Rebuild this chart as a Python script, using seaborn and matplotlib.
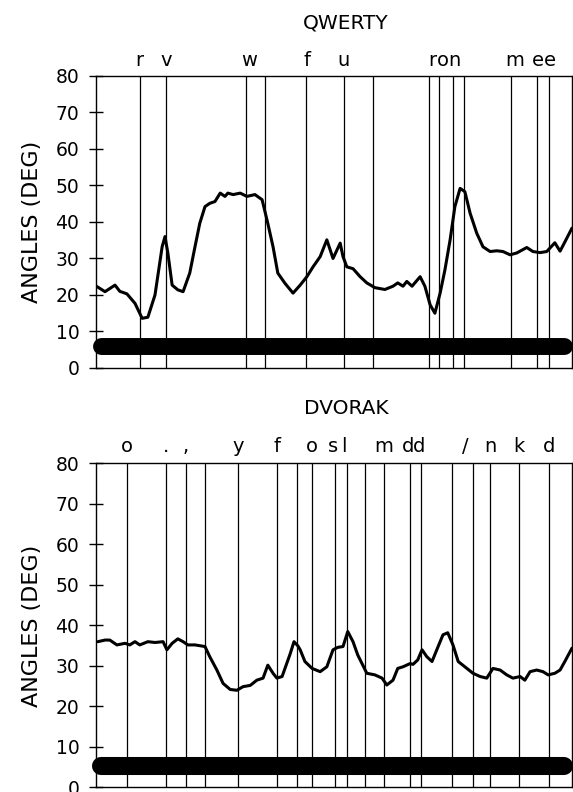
import numpy as np
import matplotlib
matplotlib.use("Agg")
import matplotlib.pyplot as plt
import seaborn as sns

# time axis is arbitrary (0-100 across the trace)
qwerty_t = [0.2, 1.9, 4.0, 5.0, 6.5, 8.2, 9.7, 10.9, 12.4, 13.9, 14.5, 15.1, 16.0, 17.2,
            18.3, 19.7, 20.8, 21.8, 22.9, 23.9, 25.0, 26.1, 27.1, 27.7, 28.8, 30.3, 31.7,
            33.4, 34.9, 36.1, 37.2, 38.2, 39.7, 41.4, 42.9, 44.3, 45.6, 47.1, 48.5, 49.8,
            51.3, 51.9, 52.7, 54.0, 55.5, 56.9, 58.6, 60.7, 62.4, 63.4, 64.5, 65.3, 66.4,
            68.1, 69.1, 70.2, 71.2, 72.3, 73.3, 74.4, 75.4, 76.5, 77.5, 78.6, 80.0, 81.3,
            82.8, 84.2, 85.5, 87.0, 88.4, 90.5, 91.8, 93.3, 94.7, 96.4, 97.5, 98.5, 100.0]
qwerty_angle = [22.3, 20.9, 22.7, 21.0, 20.3, 17.7, 13.6, 13.9, 20.0, 33.2, 36.0, 31.5, 22.7, 21.4,
                20.9, 26.0, 33.2, 39.6, 44.2, 45.1, 45.6, 47.9, 47.0, 47.9, 47.5, 47.9, 47.0,
                47.5, 46.1, 39.6, 33.2, 26.0, 23.2, 20.5, 22.7, 25.0, 27.7, 30.5, 35.1, 30.0,
                34.2, 30.5, 27.7, 27.2, 25.0, 23.3, 22.0, 21.5, 22.4, 23.3, 22.4, 23.7, 22.4,
                25.0, 22.4, 17.3, 15.0, 20.5, 26.8, 35.1, 44.2, 49.2, 48.3, 42.4, 36.9, 33.2,
                31.9, 32.1, 31.9, 31.0, 31.5, 33.0, 31.9, 31.6, 31.9, 34.3, 32.0, 34.5, 38.3]
qwerty_keys = [9.2, 14.7, 31.5, 35.5, 44.1, 52.1, 58.2, 70.0, 72.1, 75.0, 77.3, 87.2, 92.6, 95.2]
qwerty_labels = ["r", "v", "w", "f", "u", "r", "o", "n", "m", "e", "e"]
qwerty_label_t = [9.2, 14.7, 32.1, 44.3, 51.9, 70.6, 72.9, 75.4, 88.0, 92.9, 95.4]

dvorak_t = [0.4, 1.9, 2.9, 4.4, 6.1, 7.1, 8.2, 9.2, 10.9, 12.4, 14.1, 14.9, 16.0, 17.2,
            18.3, 19.3, 20.8, 22.9, 23.9, 25.4, 26.7, 28.2, 29.6, 30.9, 32.4, 33.8, 35.1,
            36.1, 37.2, 38.0, 39.1, 40.8, 41.6, 42.4, 42.9, 43.9, 45.4, 47.1, 48.5, 49.8,
            50.8, 51.9, 52.9, 54.0, 55.0, 56.9, 58.6, 60.1, 61.1, 62.4, 63.4, 64.5, 66.0,
            66.6, 67.6, 68.5, 69.5, 70.6, 71.6, 72.9, 73.9, 75.0, 76.1, 77.5, 79.2, 80.7,
            82.1, 83.4, 84.9, 86.3, 87.6, 89.1, 90.1, 91.2, 92.6, 93.9, 95.0, 96.4, 97.5,
            98.5, 100.0]
dvorak_angle = [36.0, 36.4, 36.4, 35.2, 35.6, 35.2, 36.0, 35.2, 36.0, 35.8, 36.0, 34.0, 35.6, 36.7,
                36.0, 35.2, 35.2, 34.8, 32.3, 29.0, 25.7, 24.2, 24.0, 24.9, 25.2, 26.5, 27.0,
                30.2, 28.2, 27.0, 27.4, 33.0, 36.0, 35.0, 34.0, 31.1, 29.4, 28.6, 29.8, 34.0,
                34.6, 34.8, 38.5, 36.0, 32.7, 28.2, 27.8, 27.0, 25.3, 26.5, 29.4, 29.8, 30.6,
                30.4, 31.5, 34.0, 32.3, 31.1, 34.0, 37.7, 38.2, 35.2, 31.1, 29.8, 28.2, 27.4,
                27.0, 29.4, 29.0, 27.8, 27.0, 27.4, 26.5, 28.6, 29.0, 28.6, 27.8, 28.2, 29.0,
                31.1, 34.4]
dvorak_keys = [6.5, 14.7, 18.9, 22.9, 29.8, 38.0, 42.2, 45.4, 50.2, 52.7, 56.5, 60.5, 66.0,
               68.3, 74.8, 79.2, 82.8, 88.9, 95.2]
dvorak_labels = ["o", ".", ",", "y", "f", "o", "s", "l", "m", "d", "d", "/", "n", "k", "d"]
dvorak_label_t = [6.5, 14.7, 18.9, 29.8, 38.0, 45.4, 49.8, 52.1, 60.5, 65.5, 67.9, 77.5,
                  82.8, 88.9, 95.2]

bar_level = [5.9, 5.3]
yticks = [0, 10, 20, 30, 40, 50, 60, 70, 80]

sns.set_style("ticks")
plt.rcParams["font.family"] = ["DejaVu Sans"]
plt.rcParams["text.color"] = "black"
plt.rcParams["axes.labelcolor"] = "black"
plt.rcParams["ytick.color"] = "black"

fig = plt.figure(figsize=(5.73, 7.92), dpi=100)
ax_top = fig.add_axes([0.1675, 0.5354, 0.8307, 0.3687])
ax_bot = fig.add_axes([0.1675, 0.0057, 0.8307, 0.4091])

panels = [
    (ax_top, qwerty_t, qwerty_angle, qwerty_keys, qwerty_labels, qwerty_label_t, bar_level[0], 12.2, 7.2),
    (ax_bot, dvorak_t, dvorak_angle, dvorak_keys, dvorak_labels, dvorak_label_t, bar_level[1], 13.0, 8.3),
]

for ax, t, ang, keys, labels, label_t, lvl, bar_lw, lab_off in panels:
    ax.vlines(keys, 0, 80, color="black", linewidth=0.9)
    sns.lineplot(x=t, y=ang, ax=ax, color="black", linewidth=2.2)
    ax.plot([1.0, 98.3], [lvl, lvl], color="black", linewidth=bar_lw,
            solid_capstyle="round", clip_on=False)
    ax.set_xlim(0, 100)
    ax.set_ylim(0, 80)
    ax.set_yticks(yticks)
    ax.set_xticks([])
    ax.tick_params(axis="y", direction="inout", length=10, width=1.0,
                   labelsize=13.5, pad=7, colors="black")
    for s in ax.spines.values():
        s.set_visible(True)
        s.set_linewidth(1.0)
        s.set_color("black")
    ax.set_ylabel("ANGLES (DEG)", fontsize=16, labelpad=10, color="black")
    for lbl, x in zip(labels, label_t):
        ax.annotate(lbl, (x, 1), xycoords=("data", "axes fraction"),
                    xytext=(0, lab_off), textcoords="offset points",
                    ha="center", va="baseline", fontsize=14, color="black")

fig.text(0.604, 0.9646, "QWERTY", ha="center", va="baseline", fontsize=14.5, color="black")
fig.text(0.605, 0.4773, "DVORAK", ha="center", va="baseline", fontsize=14.5, color="black")

fig.savefig("out.png", dpi=100, facecolor="white")
